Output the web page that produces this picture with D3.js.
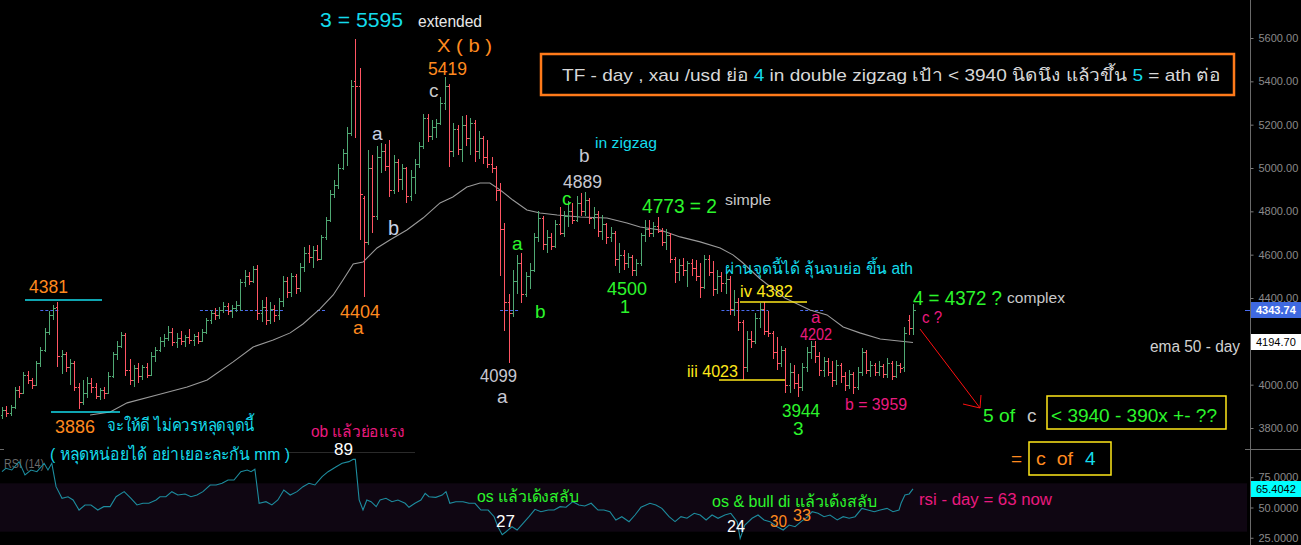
<!DOCTYPE html>
<html>
<head>
<meta charset="utf-8">
<script src="https://cdn.jsdelivr.net/npm/d3@7"></script>
<style>
  html, body { margin: 0; padding: 0; background: #000; overflow: hidden; }
  text { white-space: pre; }
</style>
</head>
<body>
<div id="chart"></div>
<script>
// data : daily xau/usd bars
const opens = [
  3860,3885,3870,3895,3975,3960,4045,4020,4000,4100, 4160,4245,4320,4360,4130,4140,4080,4100,3990,3920,
  3960,4010,3990,3950,3975,3960,4040,4140,4180,4230, 4070,4020,4075,4040,4080,4045,4130,4160,4200,4215,
  4245,4195,4215,4200,4220,4205,4225,4200,4245,4300, 4330,4320,4345,4365,4340,4355,4370,4475,4500,4480,
  4535,4330,4360,4300,4350,4320,4385,4480,4430,4500, 4445,4545,4610,4590,4620,4580,4680,4760,4880,4920,
  5000,5070,5160,5400,5380,4860,4660,5000,4780,5050, 5080,5010,4900,5030,4950,5000,4870,4960,5020,5100,
  5230,5150,5190,5210,5300,5380,5080,5180,5090,5200, 5140,5210,5080,5140,5050,5020,5000,4900,4720,4380,
  4330,4480,4560,4420,4500,4530,4680,4770,4650,4680, 4640,4740,4700,4780,4800,4760,4840,4800,4850,4770,
  4790,4710,4740,4680,4700,4580,4600,4560,4590,4530, 4560,4690,4720,4700,4730,4710,4660,4690,4580,4520,
  4550,4530,4560,4540,4500,4450,4580,4520,4440,4500, 4470,4490,4350,4380,4290,4080,4210,4200,4310,4350,
  4250,4240,4150,4100,4160,4000,4060,4010,3990,4080, 4150,4180,4130,4070,4110,4060,4020,4090,4040,4000,
  4050,3990,4060,4150,4070,4090,4060,4085,4050,4100, 4040,4090,4080,4300,4260
];
const highs = [
  3895,3900,3905,3990,3995,4060,4065,4030,4110,4175, 4260,4340,4370,4381,4160,4150,4120,4110,4010,4020,
  4035,4030,4010,3985,3990,4060,4150,4200,4245,4240, 4120,4090,4100,4090,4100,4150,4175,4220,4235,4270,
  4260,4240,4250,4230,4255,4235,4245,4255,4310,4345, 4355,4360,4380,4375,4370,4385,4490,4530,4520,4550,
  4552,4390,4405,4380,4370,4400,4500,4495,4515,4510, 4560,4635,4645,4640,4645,4690,4775,4900,4945,5020,
  5090,5190,5405,5595,5460,4870,5083,5060,5100,5115, 5110,5130,5060,5040,5020,5005,4990,5040,5120,5250,
  5250,5220,5225,5330,5419,5390,5210,5200,5240,5245, 5230,5220,5170,5150,5130,5050,5010,4930,4745,4420,
  4530,4600,4607,4520,4560,4700,4800,4780,4715,4700, 4760,4820,4800,4850,4840,4870,4885,4889,4860,4820,
  4800,4785,4745,4730,4710,4655,4620,4610,4600,4580, 4700,4760,4760,4750,4773,4725,4720,4700,4590,4580,
  4585,4570,4580,4575,4560,4600,4600,4570,4530,4520, 4510,4500,4437,4400,4300,4250,4250,4330,4375,4382,
  4340,4250,4220,4180,4170,4100,4090,4050,4100,4175, 4202,4200,4150,4130,4125,4110,4115,4100,4060,4070,
  4060,4080,4170,4160,4110,4100,4110,4095,4125,4110, 4110,4100,4265,4320,4372
];
const lows = [
  3840,3850,3855,3890,3940,3955,4005,3980,3995,4080, 4150,4230,4300,4080,4050,4060,4000,3970,3886,3905,
  3940,3960,3935,3930,3935,3955,4030,4115,4170,4040, 4000,3990,4010,4020,4030,4040,4105,4150,4175,4200,
  4180,4170,4185,4175,4190,4180,4190,4195,4235,4280, 4300,4305,4330,4320,4310,4335,4340,4450,4460,4470,
  4300,4290,4275,4280,4290,4300,4360,4400,4405,4420, 4430,4520,4560,4540,4570,4575,4670,4750,4860,4905,
  4990,5010,5150,5140,4670,4404,4645,4700,4760,4975, 4985,4865,4880,4890,4900,4840,4850,4880,5000,5090,
  5120,5130,5140,5200,5270,5005,5050,5060,5030,5100, 5060,5030,5040,5020,5000,4975,4850,4500,4250,4099,
  4313,4420,4375,4405,4440,4520,4660,4620,4610,4620, 4630,4690,4680,4730,4740,4750,4780,4780,4740,4720,
  4680,4670,4650,4660,4550,4515,4530,4540,4500,4500, 4550,4660,4680,4680,4700,4640,4620,4560,4470,4480,
  4500,4450,4500,4480,4400,4440,4500,4410,4420,4430, 4420,4320,4315,4250,4023,4060,4170,4190,4260,4230,
  4220,4120,4070,4080,3960,3960,3980,3944,3970,4060, 4120,4100,4040,4035,4040,3990,4000,4010,3970,3980,
  3959,3975,4040,4050,4035,4040,4040,4030,4030,4020, 4030,4055,4060,4230,4230
];
const closes = [
  3885,3870,3895,3975,3960,4045,4020,4000,4100,4160, 4245,4320,4355,4130,4140,4080,4100,3990,3920,3960,
  4010,3990,3950,3975,3960,4040,4140,4180,4230,4070, 4020,4075,4040,4080,4045,4130,4160,4200,4215,4245,
  4195,4215,4200,4220,4205,4225,4200,4245,4300,4330, 4320,4345,4365,4340,4355,4370,4475,4500,4480,4535,
  4330,4360,4300,4350,4320,4385,4480,4430,4500,4445, 4545,4610,4590,4620,4580,4680,4760,4880,4920,5000,
  5070,5160,5380,5380,4880,4660,5000,4780,5050,5080, 5010,4900,5030,4950,5000,4870,4960,5020,5100,5230,
  5150,5190,5210,5300,5380,5080,5180,5090,5200,5140, 5210,5080,5140,5050,5020,5000,4900,4720,4380,4330,
  4480,4560,4420,4500,4530,4680,4770,4650,4680,4640, 4740,4700,4780,4800,4760,4840,4800,4850,4770,4790,
  4710,4740,4680,4700,4580,4600,4560,4590,4530,4560, 4690,4720,4700,4730,4710,4660,4690,4580,4520,4550,
  4530,4560,4540,4500,4450,4580,4520,4440,4500,4470, 4490,4350,4380,4290,4080,4210,4200,4310,4350,4250,
  4240,4150,4100,4160,4000,4060,4010,3990,4080,4150, 4180,4130,4070,4110,4060,4020,4090,4040,4000,4050,
  3990,4060,4150,4070,4090,4060,4085,4050,4100,4040, 4090,4075,4240,4260,4343.74
];

// ema 50 - day, points [bar, value]
const ema50 = [
  [20.7,3860],[25.4,3874],[29.4,3916],[36.4,3952],[43.5,3989],[48.2,4022],[54.3,4105],[59,4174],
  [63.7,4206],[67.7,4239],[70.7,4280],[74.7,4350],[77.8,4414],[80.1,4483],[82.5,4557],[84.8,4566],
  [88.1,4631],[91.1,4668],[95.1,4714],[98.9,4769],[102.9,4839],[105.9,4866],[109.2,4912],[112.3,4931],
  [114.6,4931],[117,4899],[120,4852],[123.3,4806],[126.4,4792],[130.4,4783],[135.8,4774],[142.1,4769],
  [146.8,4746],[149.9,4728],[154.6,4714],[159.3,4682],[164,4659],[168.7,4631],[171.7,4599],[173.8,4566],
  [178,4490],[183.9,4400],[189.8,4345],[193.8,4322],[197.6,4266],[201.5,4239],[206.3,4211],[214,4194.7]
];

// rsi (14), points [bar, value]
const rsi14 = [
  [0,79.6],[0.9,82.4],[2.3,81],[4,87.9],[5.4,76.9],[6.8,81],[8.2,79.6],[9.9,86.5],[10.8,81],[11.7,86.5],
  [12.7,67.2],[14.1,57.6],[15.5,58.9],[16.7,56.2],[18.1,47.9],[19.5,52.1],[20.9,52.1],[22.5,47.9],[23.9,50.7],
  [25.4,50.7],[26.8,58.9],[28.7,63.1],[30.3,57.6],[31.7,52.1],[33.1,53.5],[34.5,53.5],[36.2,56.2],[37.1,58.9],
  [38.5,58.9],[39.9,63.1],[41.3,60.3],[43,61.2],[44.4,58.9],[45.8,60.3],[47.2,63.1],[48.9,68.6],[50.3,68.6],
  [51.7,70],[53.1,72.7],[54.5,72.7],[56.1,79.6],[57.6,81],[58.5,79.6],[59.4,81.6],[60.4,53.5],[62,54.8],
  [63.4,52.1],[64.8,56.2],[66.2,64.5],[67.7,60.3],[69.3,63.1],[70.7,67.2],[72.1,70],[73.5,68.6],[75.2,75.5],
  [76.6,79.6],[78.5,83.7],[79.9,86.5],[81.5,87.9],[82.5,89.8],[83,89.8],[83.9,56.2],[84.8,47.9],[85.7,56.2],
  [86.7,54.8],[87.9,50.7],[88.8,56.2],[90.2,57.6],[91.6,54.8],[93,56.2],[94.7,53.5],[95.6,50.2],[97,53.5],
  [98.4,56.2],[99.4,61.7],[100.3,58.9],[101.9,58.4],[103.4,60.3],[104.3,63.1],[105.2,53.5],[106.6,54.8],
  [108.3,54.8],[109.7,53.5],[111.1,53.5],[112.5,47.9],[114.2,47.9],[115.6,42.4],[116.5,34.1],[117.5,27.5],
  [118.4,30],[119.8,34.1],[121,31.4],[122.4,36.9],[123.8,42.4],[125.2,48.5],[126.6,46.5],[128.3,47.9],
  [129.7,47.9],[131.1,50.7],[132.5,50.2],[134.1,54.8],[135.5,52.1],[136.9,51.2],[138.4,53.5],[140,47.9],
  [141.4,47.9],[142.8,46.5],[144.2,39.7],[145.6,42.4],[147.3,38.3],[148.7,43.8],[150.1,50.2],[152.2,53.5],
  [153.6,52.1],[155,49.3],[156.7,42.4],[158.1,38.3],[159.5,42.4],[160.9,41.1],[162.6,45.2],[164,43.8],
  [165.4,39.7],[166.8,43.8],[168.2,41.1],[169.8,43.8],[171.2,45.2],[172.7,38.3],[173.4,24.5],[174.5,35.5],
  [176.2,41.1],[177.6,43.8],[179,39.7],[180.4,38.3],[182.1,34.1],[183.5,31.4],[184.9,35.5],[186.3,34.1],
  [187.7,38.3],[189.3,42.4],[190.3,46.5],[191.7,45.2],[193.1,42.4],[194.5,43.8],[196.2,39.7],[197.6,42.4],
  [199,41.1],[200.4,42.4],[202,49.3],[203.4,47.9],[204.9,46.5],[206.3,47.9],[207.9,49.3],[209.3,46.5],
  [210.7,47.9],[211.2,53.5],[212.1,60.3],[213.1,61.2],[214,65.4]
];

const priceTicks = [5600, 5400, 5200, 5000, 4800, 4600, 4400, 4000, 3800];
const rsiTicks = [75, 50, 25];
const lastPrice = 4343.74;
const lastEma = 4194.70;
const lastRsi = 65.4042;
// bid line pieces, [from bar, to bar]
const bidSegs = [[9, 13.6], [46.5, 66], [74, 76], [117, 121.7], [169, 180], [187.5, 193.3]];

// const
const width = 1301;
const height = 545;
const axisX = 1250;
const paneBottom = 449;
const up = '#4fa873', down = '#ff5563';
const cyan = '#14dcec', green = '#2cf52c', pink = '#ea1a7f', orange = '#ff8a1f',
      grey = '#c8c8c8', yellow = '#ffe81a', white = '#ffffff';
const font = "'Liberation Sans', Arial, sans-serif";

// svg
const svg = d3.select('#chart')
  .append('svg')
  .attr('width', width)
  .attr('height', height)
  .style('background', '#000')
  .style('font-family', font);

const defs = svg.append('defs');
defs.append('clipPath').attr('id', 'cm').append('rect')
  .attr('x', 0).attr('y', 0).attr('width', axisX).attr('height', paneBottom);
defs.append('clipPath').attr('id', 'cr').append('rect')
  .attr('x', 0).attr('y', paneBottom).attr('width', axisX).attr('height', height - paneBottom);

// scales
const x = d3.scaleLinear().domain([0, closes.length - 1]).range([2, 913]);
const y = d3.scaleLinear().domain([3800, 5600]).range([428, 38]);
const yr = d3.scaleLinear().domain([0, 100]).range([568, 447]);
const px = v => Math.round(v) + 0.5;

// rsi pane background (70 - 30)
svg.append('rect')
  .attr('x', 0).attr('width', axisX - 3)
  .attr('y', yr(70)).attr('height', yr(30) - yr(70))
  .attr('fill', '#0f0612');

// bid line pieces
const main = svg.append('g').attr('clip-path', 'url(#cm)');
main.selectAll('line.bid').data(bidSegs).join('line')
  .attr('x1', d => x(d[0])).attr('x2', d => x(d[1]))
  .attr('y1', px(y(lastPrice))).attr('y2', px(y(lastPrice)))
  .attr('stroke', '#4a6cf0').attr('stroke-dasharray', '3,2');

// ema line
main.append('path')
  .datum(ema50)
  .attr('fill', 'none')
  .attr('stroke', '#9a9a9a')
  .attr('stroke-width', 1.1)
  .attr('d', d3.line().x(d => x(d[0])).y(d => y(d[1])));

// bars
const idx = d3.range(closes.length);
const bar = main.selectAll('g.bar').data(idx).join('g')
  .attr('stroke', i => closes[i] >= opens[i] ? up : down)
  .attr('stroke-width', 1)
  .attr('shape-rendering', 'crispEdges');
bar.append('line')
  .attr('x1', i => px(x(i))).attr('x2', i => px(x(i)))
  .attr('y1', i => y(highs[i])).attr('y2', i => y(lows[i]));
bar.append('line')
  .attr('x1', i => px(x(i)) - 2).attr('x2', i => px(x(i)))
  .attr('y1', i => px(y(opens[i]))).attr('y2', i => px(y(opens[i])));
bar.append('line')
  .attr('x1', i => px(x(i))).attr('x2', i => px(x(i)) + 2.5)
  .attr('y1', i => px(y(closes[i]))).attr('y2', i => px(y(closes[i])));

// annotation helpers
function label(xp, yp, size, parts, w) {
  const t = svg.append('text').attr('x', xp).attr('y', yp).attr('font-size', size);
  if (w) t.attr('textLength', w).attr('lengthAdjust', 'spacingAndGlyphs');
  parts.forEach(([s, c]) => t.append('tspan').attr('fill', c).text(s));
  return t;
}
function seg(x1, y1, x2, y2, c, w) {
  svg.append('line').attr('x1', x1).attr('y1', y1).attr('x2', x2).attr('y2', y2)
    .attr('stroke', c).attr('stroke-width', w || 1);
}
function box(x0, y0, w, h, c, sw) {
  svg.append('rect').attr('x', x0).attr('y', y0).attr('width', w).attr('height', h)
    .attr('fill', 'none').attr('stroke', c).attr('stroke-width', sw);
}

// rsi pane
label(4, 468, 12, [['RSI (14)', '#6a6a6a']], 40);
seg(286, 452.5, 415, 452.5, '#2a2a2a', 1);
svg.append('g').attr('clip-path', 'url(#cr)').append('path')
  .datum(rsi14)
  .attr('fill', 'none')
  .attr('stroke', '#1d8c9e')
  .attr('stroke-width', 1.1)
  .attr('d', d3.line().x(d => x(d[0])).y(d => yr(d[1])));

// wave labels
label(320, 27, 21, [['3 = 5595', cyan]], 83);
label(418, 27, 16, [['extended', '#e8e8e8']], 64);
label(437, 52, 19, [['X ( b )', orange]], 55);
label(428, 75, 18, [['5419', orange]], 39);
label(429, 97, 19, [['c', grey]]);
label(372, 140, 19, [['a', '#c8d2e6']]);
label(388, 235, 20, [['b', '#c8d2e6']]);
label(340, 318, 19, [['4404', orange]], 40);
label(353, 334, 19, [['a', orange]]);

label(29, 293, 19, [['4381', orange]], 39);
seg(25, 300, 102, 300, cyan, 1.5);
seg(51, 412, 120, 412, cyan, 1.5);
label(55, 433, 18, [['3886', orange]], 40);
label(107, 431, 17, [['จะให้ดี ไม่ควรหลุดจุดนี้', cyan]], 148);
label(50, 460, 17, [['( หลุดหน่อยได้ อย่าเยอะละกัน mm )', cyan]], 240);

label(480, 382, 19, [['4099', '#c8c8d2']], 37);
label(497, 403, 19, [['a', '#c8c8d2']]);
label(512, 250, 19, [['a', green]]);
label(535, 318, 19, [['b', green]]);
label(562, 205, 19, [['c', green]]);
label(579, 162, 19, [['b', '#c8c8d2']]);
label(595, 148, 15, [['in zigzag', cyan]], 62);
label(563, 188, 19, [['4889', '#c8c8d2']], 39);
label(642, 213, 20, [['4773 = 2', green]], 75);
label(725, 205, 15, [['simple', grey]], 46);
label(607, 295, 18, [['4500', green]], 40);
label(620, 313, 18, [['1', green]]);

label(725, 274, 16, [['ผ่านจุดนี้ได้ ลุ้นจบย่อ ขึ้น ath', cyan]], 188);
label(740, 297, 17, [['iv 4382', yellow]], 53);
seg(740, 302, 807, 302, yellow, 1.5);
label(687, 377, 17, [['iii 4023', yellow]], 51);
seg(719, 380, 785, 380, yellow, 1.5);
label(811, 323, 17, [['a', pink]]);
label(800, 340, 16, [['4202', pink]], 32);
label(782, 417, 19, [['3944', green]], 38);
label(793, 435, 19, [['3', green]]);
label(845, 410, 16, [['b = 3959', pink]], 62);
label(922, 323, 16, [['c ?', pink]], 20);
label(913, 305, 20, [['4 = 4372 ?', green]], 89);
label(1007, 303, 15, [['complex', grey]], 58);

// forecast arrow
seg(920, 329, 980, 408, '#ff1010', 1);
seg(963, 404, 980, 408, '#ff1010', 1);
seg(981, 395, 980, 408, '#ff1010', 1);
label(983, 422, 19, [['5 of', green]], 32);
label(1027, 422, 19, [['c', grey]]);
box(1047, 396, 179, 33, yellow, 1.5);
label(1051, 422, 19, [['< 3940 - 390x +- ??', green]], 166);
label(1011, 465, 19, [['=', orange]]);
box(1029, 442, 82, 33, yellow, 1.5);
label(1036, 465, 19, [['c  of', orange]], 37);
label(1085, 465, 19, [['4', cyan]]);
label(1150, 352, 16, [['ema 50 - day', '#d2d2d2']], 90);

// rsi notes
label(311, 437, 16, [['ob แล้วย่อแรง', pink]], 94);
label(334, 455, 16, [['89', white]], 19);
label(477, 502, 16, [['os แล้วเด้งสลับ', green]], 102);
label(496, 527, 16, [['27', white]], 19);
label(712, 507, 16, [['os & bull di แล้วเด้งสลับ', green]], 165);
label(727, 532, 16, [['24', white]], 18);
label(770, 527, 16, [['30', orange]], 17);
label(793, 521, 16, [['33', orange]], 18);
label(919, 505, 16, [['rsi - day = 63 now', pink]], 133);

// title box
box(541, 54, 693, 41, '#ff7a1a', 2.5);
label(562, 81, 17, [
  ['TF - day , xau /usd ย่อ ', '#d8d8d8'], ['4', cyan],
  [' in double zigzag เป้า < 3940 นิดนึง แล้วขึ้น ', '#d8d8d8'], ['5', cyan],
  [' = ath ต่อ', '#d8d8d8']
], 658);

// axes
svg.append('line')
  .attr('x1', axisX + 0.5).attr('x2', axisX + 0.5).attr('y1', 0).attr('y2', height)
  .attr('stroke', '#6a6a6a');
seg(axisX - 5, paneBottom + 0.5, width, paneBottom + 0.5, '#6a6a6a', 1);
seg(0, paneBottom + 0.5, 4, paneBottom + 0.5, '#6a6a6a', 1);

svg.append('g')
  .attr('transform', `translate(${axisX + 0.5}, 0)`)
  .call(d3.axisRight(y).tickValues(priceTicks).tickFormat(d3.format('.2f')).tickSize(3).tickPadding(5))
  .call(g => g.select('.domain').remove())
  .call(g => g.selectAll('line').attr('stroke', '#7a7a7a'))
  .call(g => g.selectAll('text').attr('fill', '#8a8a8a').attr('font-size', 11).attr('font-family', font));

svg.append('g')
  .attr('transform', `translate(${axisX + 0.5}, 0)`)
  .call(d3.axisRight(yr).tickValues(rsiTicks).tickFormat(d3.format('.4f')).tickSize(3).tickPadding(5))
  .call(g => g.select('.domain').remove())
  .call(g => g.selectAll('line').attr('stroke', '#7a7a7a'))
  .call(g => g.selectAll('text').attr('fill', '#8a8a8a').attr('font-size', 11).attr('font-family', font));

// last value tags
function tag(yp, txt, bg, fg, bold) {
  svg.append('rect').attr('x', axisX + 1).attr('y', Math.round(yp) - 8)
    .attr('width', width - axisX - 1).attr('height', 16).attr('fill', bg);
  svg.append('text').attr('x', axisX + 6).attr('y', Math.round(yp) + 4)
    .attr('font-size', 11).attr('font-weight', bold ? 'bold' : 'normal')
    .attr('fill', fg).text(txt);
}
seg(axisX - 5, px(y(lastPrice)), axisX, px(y(lastPrice)), '#4a6cf0', 1);
tag(y(lastPrice), d3.format('.2f')(lastPrice), '#3f69e0', '#ffffff', true);
tag(y(lastEma), d3.format('.2f')(lastEma), '#ffffff', '#000000', false);
tag(yr(lastRsi), d3.format('.4f')(lastRsi), '#00ffff', '#000000', false);
</script>
</body>
</html>
